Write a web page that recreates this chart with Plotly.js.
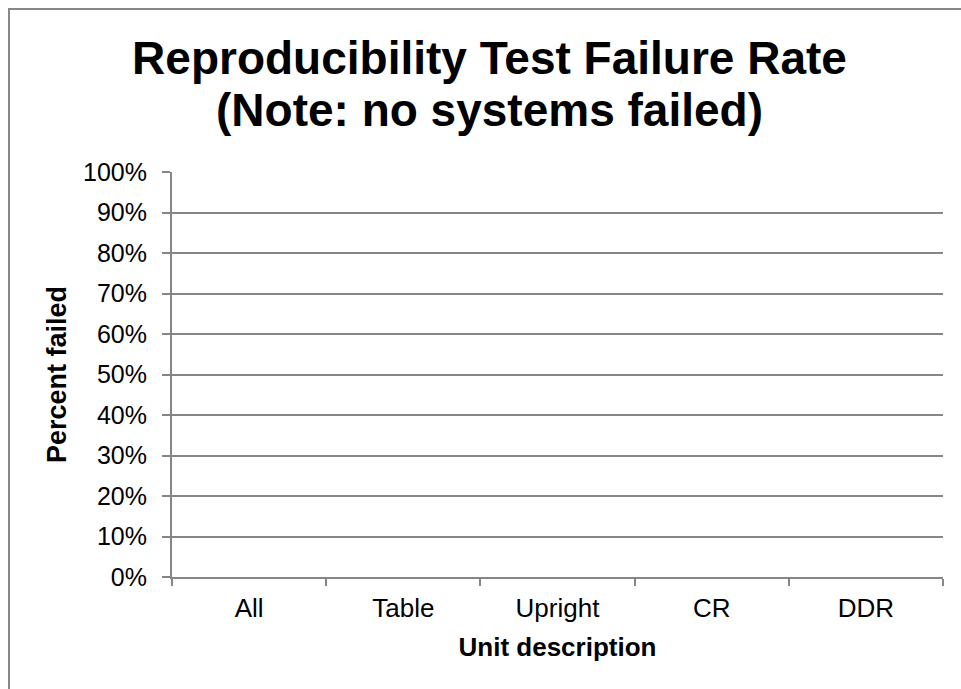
<!DOCTYPE html>
<html>
<head>
<meta charset="utf-8">
<script src="https://cdn.plot.ly/plotly-3.0.1.min.js"></script>
<style>
  html, body { margin: 0; padding: 0; background: #ffffff; overflow: hidden; }
  #chart { width: 961px; height: 689px; position: absolute; left: 0; top: 0; }
  #frame { position: absolute; left: 8px; top: 8px; width: 2000px; height: 2000px;
           border-left: 2px solid #878787; border-top: 2px solid #878787; pointer-events: none; }
</style>
</head>
<body>
<div id="chart"></div>
<div id="frame"></div>
<script>
const categories = ["All", "Table", "Upright", "CR", "DDR"];
const failureRate = [0, 0, 0, 0, 0];
const yTickValues = [0, 0.1, 0.2, 0.3, 0.4, 0.5, 0.6, 0.7, 0.8, 0.9, 1.0];
const titleLine1 = "Reproducibility Test Failure Rate";
const titleLine2 = "(Note: no systems failed)";
const xTitle = "Unit description";
const yTitle = "Percent failed";

const font = "Arial, 'Liberation Sans', sans-serif";
const gray = "#868686";
const titleSize = 46;
const titleX = 489.5 / 961;

const trace = {
  type: "bar",
  x: categories,
  y: failureRate,
  marker: { color: "#4F81BD" },
  hoverinfo: "x+y"
};

const layout = {
  width: 961,
  height: 689,
  margin: { l: 172, r: 18, t: 172, b: 112, pad: 0 },
  paper_bgcolor: "#ffffff",
  plot_bgcolor: "#ffffff",
  showlegend: false,
  font: { family: font, color: "#000000" },
  title: {
    text: titleLine1,
    font: { family: font, size: titleSize, color: "#000000", weight: "bold" },
    x: titleX, xanchor: "center",
    xref: "container", yref: "container",
    y: 1 - 58 / 689, yanchor: "middle"
  },
  annotations: [{
    text: titleLine2,
    font: { family: font, size: titleSize, color: "#000000", weight: "bold" },
    xref: "paper", yref: "paper",
    x: (titleX * 961 - 172) / 771, xanchor: "center",
    y: (577 - 110) / 405, yanchor: "middle",
    showarrow: false
  }],
  xaxis: {
    type: "category",
    tickson: "boundaries",
    ticks: "outside",
    ticklen: 7,
    tickwidth: 2,
    tickcolor: gray,
    showline: true,
    linecolor: gray,
    linewidth: 2,
    showgrid: false,
    zeroline: false,
    tickfont: { family: font, size: 26, color: "#000000" },
    ticklabelstandoff: 7,
    title: { text: xTitle, font: { family: font, size: 26, color: "#000000", weight: "bold" }, standoff: 16 },
    fixedrange: true
  },
  yaxis: {
    range: [0, 1],
    tickvals: yTickValues,
    tickformat: ".0%",
    ticks: "outside",
    ticklen: 8,
    tickwidth: 2,
    tickcolor: gray,
    showline: true,
    linecolor: gray,
    linewidth: 2,
    showgrid: true,
    gridcolor: gray,
    gridwidth: 2,
    zeroline: false,
    tickfont: { family: font, size: 25, color: "#000000" },
    ticklabelstandoff: 10,
    title: { text: yTitle, font: { family: font, size: 27, color: "#000000", weight: "bold" }, standoff: 9 },
    fixedrange: true
  }
};

Plotly.newPlot("chart", [trace], layout, { displayModeBar: false, staticPlot: true });
</script>
</body>
</html>
